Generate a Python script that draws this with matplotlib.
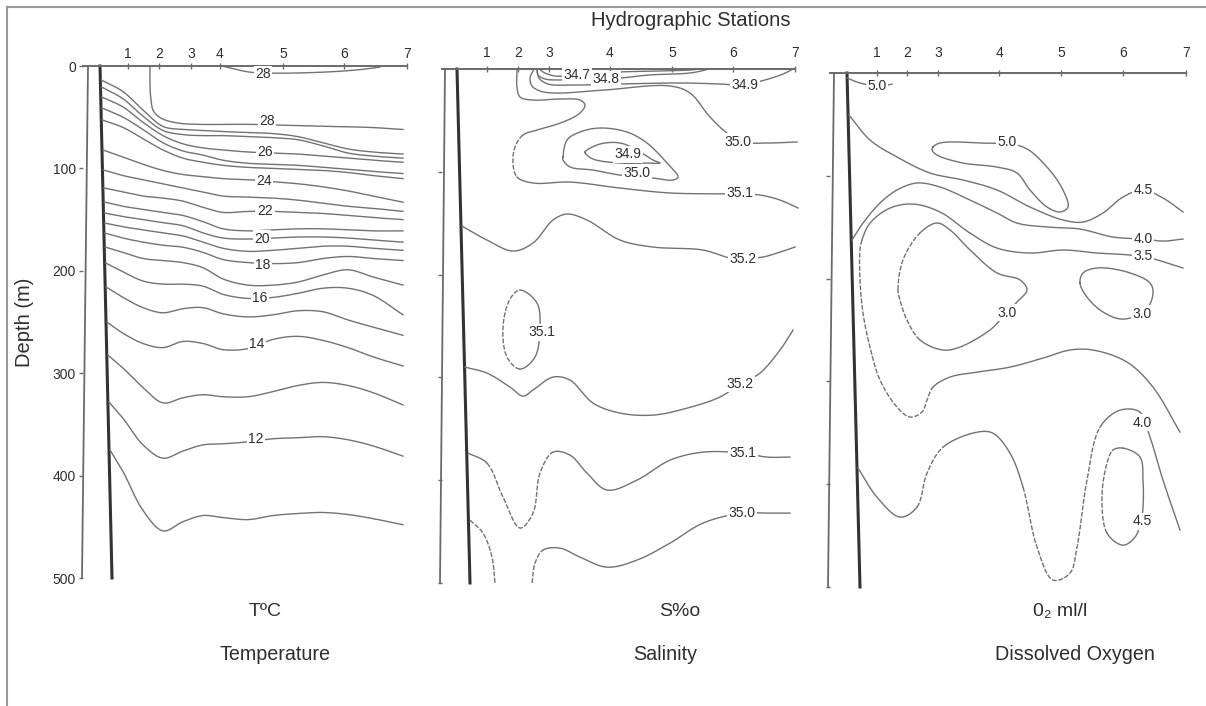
import numpy as np
import matplotlib
matplotlib.use("Agg")
import matplotlib.pyplot as plt
from matplotlib.lines import Line2D

plt.rcParams['font.family'] = ['Liberation Sans', 'DejaVu Sans']

# ---- stations along each section (distance units from the shore rim) ----
station_names = ['1', '2', '3', '4', '5', '6', '7']
temp_stations = [40, 71, 103, 132, 195, 256, 319]
sal_stations = [42, 73, 104, 165, 227, 288, 350]
oxy_stations = [43, 73, 104, 165, 227, 289, 352]
depth_ticks = [0, 100, 200, 300, 400, 500]

# shelf edge (thick line) and rim (thin line): x at 0 m and at 500 m
temp_coast = [12, 24]
sal_coast = [12, 25]
oxy_coast = [13, 26]
temp_rim = [0, -6]
sal_rim = [0, -5]
oxy_rim = [0, -6]

# ---- temperature: isotherms leaving the shelf, depth (m) on a common x grid ----
temp_x = [35, 55, 75, 95, 115, 135, 160, 185, 210, 235, 260, 285, 315]
temp_start = [13.7, 20.5, 30.3, 41.0, 52.7, 82.0, 101.6, 119.1, 132.8, 143.6,
              153.4, 163.2, 176.8, 192.4, 215.9, 250.1, 282.2, 328.1, 375.0]
temp_depths = [
    [25, 43, 59, 62, 63, 64, 65, 66, 69, 75, 81, 84, 86],
    [32, 49, 63, 67, 68, 68, 69, 70, 72, 78, 85, 88, 90],
    [40, 55, 68, 76, 80, 82, 84, 85, 86, 88, 90, 92, 94],
    [50, 62, 75, 83, 87, 92, 95, 96, 97, 99, 101, 103, 105],
    [60, 71, 82, 90, 94, 97, 99, 100, 101, 102, 104, 107, 110],
    [89, 96, 102, 106, 108, 110, 111, 113, 115, 118, 122, 127, 133],
    [107, 111, 115, 119, 123, 127, 128, 129, 131, 134, 137, 139, 142],
    [123, 127, 129, 132, 138, 143, 142, 142, 143, 144, 146, 148, 150],
    [137, 140, 143, 146, 152, 159, 161, 160, 159, 159, 160, 161, 161],
    [147, 150, 153, 156, 163, 168, 169, 168, 167, 167, 168, 170, 172],
    [157, 160, 163, 166, 172, 178, 181, 180, 178, 176, 176, 178, 180],
    [168, 172, 175, 177, 182, 189, 192, 193, 192, 188, 186, 188, 190],
    [182, 188, 190, 192, 197, 208, 214, 214, 211, 204, 199, 206, 214],
    [201, 210, 213, 213, 215, 223, 227, 226, 222, 217, 217, 224, 243],
    [226, 236, 241, 237, 236, 242, 245, 243, 239, 240, 248, 255, 263],
    [261, 271, 275, 269, 271, 277, 276, 267, 264, 268, 275, 284, 293],
    [295, 314, 329, 324, 321, 323, 323, 318, 312, 309, 312, 319, 331],
    [344, 370, 383, 376, 370, 369, 367, 364, 363, 362, 365, 371, 381],
    [396, 434, 454, 445, 439, 441, 443, 439, 437, 436, 438, 442, 448],
]
# 28 degC lines near the surface
temp_28_x = [62, 62, 63, 65, 70, 78, 92, 112, 162, 202, 242, 282, 315]
temp_28_d = [0, 19, 33, 43, 49, 53, 56, 57, 57, 58, 59, 60, 62]
temp_28s_x = [134, 147, 162, 190, 235, 267, 285, 292]
temp_28s_d = [0, 3, 6, 7, 6, 4, 2, 1]
temp_labels = [('28', 175, 8), ('28', 179, 54), ('26', 177, 84), ('24', 176, 112),
               ('22', 177, 142), ('20', 174, 169), ('18', 175, 194), ('16', 172, 227),
               ('14', 169, 271), ('12', 168, 364)]

# ---- salinity isohalines: (x, depth, dashed point ranges) ----
sal_347 = ([94, 100, 110, 120, 147, 175, 215, 245, 255],
           [0, 3.9, 6.8, 6.8, 4.9, 2.9, 1.9, 1.0, 0], [])
sal_348 = ([92, 93, 100, 120, 145, 175, 205, 245, 260, 263],
           [0, 5.8, 9.7, 10.7, 10.7, 8.8, 5.8, 3.9, 1.0, 0], [])
sal_349_top = ([92, 94, 103, 127, 175, 235, 275, 297, 320, 338, 348],
               [0, 8.8, 14.6, 15.6, 14.6, 13.6, 14.6, 15.6, 10.7, 4.9, 0], [])
sal_350_top = ([89, 85, 87, 95, 110, 160, 225, 245, 265, 282, 297, 322, 352],
               [0, 8.8, 16.5, 21.4, 23.4, 20.4, 16.5, 23.4, 46.7, 62.3, 71.0, 72.0, 71.0], [])
sal_351_top = ([72, 72, 75, 88, 115, 135, 140, 135, 118, 92, 78, 70, 68, 72, 88, 125,
                175, 225, 285, 315, 335, 353],
               [0, 17.5, 27.2, 30.2, 29.2, 30.2, 35.0, 42.8, 51.6, 59.4, 64.2, 75.9, 91.5,
                105.1, 110.9, 110.0, 115.8, 120.6, 121.6, 122.6, 127.5, 135.2], [(10, 13)])
sal_350_loop = ([118, 122, 135, 155, 182, 202, 222, 233, 228, 208, 175, 148, 125, 118, 118],
                [85.6, 69.1, 61.3, 57.4, 61.3, 72.0, 91.5, 105.1, 108.0, 106.1, 103.2, 98.3,
                 95.3, 88.5, 85.6], [])
sal_349_loop = ([140, 155, 175, 192, 208, 215, 202, 175, 148, 141, 140],
                [80.8, 73.0, 72.0, 78.8, 88.5, 91.5, 91.5, 91.5, 87.6, 82.7, 80.8], [])
sal_352_top = ([17, 42, 68, 88, 108, 122, 142, 175, 208, 258, 285, 298, 318, 335, 350],
               [152.8, 166.4, 177.1, 169.3, 146.9, 141.1, 146.9, 166.4, 173.2, 176.1, 183.9,
                184.9, 182.9, 178.1, 173.2], [])
sal_351_loop = ([75, 92, 95, 90, 75, 62, 58, 65, 75],
                [215, 227.7, 251, 280.2, 291.9, 280.2, 251, 223.8, 215], [(4, 8)])
sal_352_low = ([20, 42, 65, 78, 88, 108, 125, 148, 175, 208, 242, 275, 295, 315, 335, 348],
               [290, 295.8, 309.4, 318.2, 312.3, 299.7, 302.6, 325, 334.7, 336.7, 329.9,
                319.1, 306.5, 295.8, 273.4, 254], [])
sal_351_low = ([23, 42, 58, 75, 88, 95, 108, 125, 142, 162, 192, 225, 258, 298, 322, 345],
               [373.6, 383.4, 416.4, 446.6, 432, 393.1, 372.7, 375.6, 393.1, 409.6, 399.9,
                380.5, 372.7, 373.6, 377.5, 377.5], [(1, 6)])
sal_350_low_a = ([25, 38, 47, 50], [438.8, 451.5, 474.8, 500], [(0, 3)])
sal_350_low_b = ([87, 90, 98, 115, 135, 162, 192, 225, 258, 297, 322, 345],
                 [500, 480.7, 468, 466.1, 474.8, 484.6, 477.7, 461.2, 441.7, 432, 432, 432],
                 [(0, 2)])
sal_lines = [sal_347, sal_348, sal_349_top, sal_350_top, sal_351_top, sal_350_loop,
             sal_349_loop, sal_352_top, sal_351_loop, sal_352_low, sal_351_low,
             sal_350_low_a, sal_350_low_b]
sal_labels = [('34.7', 132, 6), ('34.8', 161, 10), ('34.9', 300, 16), ('35.0', 293, 71),
              ('34.9', 183, 83), ('35.0', 192, 101), ('35.1', 295, 121), ('35.2', 298, 185),
              ('35.1', 97, 256), ('35.2', 295, 306), ('35.1', 298, 374), ('35.0', 297, 432)]

# ---- dissolved oxygen ----
oxy_50_top = ([13, 26, 43, 54, 58], [4.9, 9.7, 12.6, 11.7, 10.7], [])
oxy_45_top = ([15, 36, 63, 96, 129, 163, 196, 229, 249, 269, 289, 309, 329, 349],
              [40.9, 65.2, 81.7, 97.3, 104.1, 113.8, 130.4, 143, 145, 136.2, 120.6, 113.8,
               121.6, 135.2], [])
oxy_50_loop = ([99, 106, 146, 189, 213, 229, 234, 226, 213, 196, 183, 163, 129, 103, 98, 99],
               [72, 68.1, 68.1, 72, 91.5, 113.8, 130.4, 135.2, 130.4, 113.8, 97.3, 91.5, 87.6,
                79.8, 74.9, 72], [])
oxy_40_top = ([18, 29, 46, 63, 83, 106, 136, 163, 183, 213, 246, 279, 309, 329, 349],
              [162.5, 146, 126.5, 113.8, 107, 110.9, 123.6, 136.2, 146, 149.8, 151.8, 159.6,
               161.5, 163.5, 161.5], [])
oxy_35 = ([349, 316, 296, 263, 229, 196, 163, 136, 106, 79, 56, 36, 28, 26, 26, 29, 36, 46,
           63, 76, 88, 93, 99, 116, 143, 176, 209, 236, 259, 293, 319, 346],
          [189.7, 180.0, 177.1, 175.1, 172.2, 175.1, 170.3, 155.7, 135.2, 127.5, 131.4, 146.0,
           162.5, 172.2, 201.4, 233.5, 266.6, 298.7, 325.0, 334.7, 329.8, 318.2, 305.6, 295.8,
           291.0, 286.1, 277.3, 269.5, 269.5, 281.2, 305.6, 349.3], [(12, 22)])
oxy_30_left = ([64, 69, 86, 103, 116, 136, 163, 186, 193, 183, 166, 156, 126, 109, 86, 73, 66, 64],
               [211, 181.8, 155.6, 145.9, 152.7, 172.1, 194.5, 201.3, 211, 222.8, 240.3, 250,
                266.6, 269.5, 259.7, 240.3, 220.9, 211], [(0, 2), (14, 17)])
oxy_30_right = ([246, 249, 263, 293, 316, 319, 312, 289, 269, 253, 246],
                [204.3, 194.6, 189.7, 193.6, 204.3, 214.1, 230.6, 239.4, 232.5, 218, 204.3], [])
oxy_40_low = ([24, 43, 66, 83, 93, 109, 143, 159, 176, 189, 203, 219, 236, 243, 253, 266, 286,
               306, 316, 329, 346],
              [384.3, 412.6, 432, 422.3, 389.3, 364, 349.4, 350.4, 369.8, 402.8, 461.2, 493.3,
               486.5, 461.2, 396, 344.5, 328, 329.9, 354.2, 396, 444.6], [(3, 5), (9, 15)])
oxy_45_loop = ([289, 306, 309, 309, 307, 301, 289, 273, 268, 273, 279, 289],
               [364.9, 373.6, 396, 422.3, 436, 451.5, 459.3, 447.6, 412.6, 379.5, 366.8, 364.9],
               [(7, 10)])
oxy_lines = [oxy_50_top, oxy_45_top, oxy_50_loop, oxy_40_top, oxy_35, oxy_30_left,
             oxy_30_right, oxy_40_low, oxy_45_loop]
oxy_labels = [('5.0', 43, 12.6), ('5.0', 173, 67), ('4.5', 309, 114), ('4.0', 309, 161),
              ('3.5', 309, 178), ('3.0', 173, 233), ('3.0', 308, 234), ('4.0', 308, 340),
              ('4.5', 308, 436)]

W, H = 1206, 706
LINE = '#727272'
INK = '#2e2e2e'
SUB = 10  # curve samples per traced segment


def smooth(xs, ys):
    """Centripetal Catmull-Rom curve through the traced points."""
    p = np.column_stack([xs, ys]).astype(float)
    closed = len(p) > 3 and np.allclose(p[0], p[-1])
    if closed:
        ext = np.vstack([p[-2], p, p[1]])
    else:
        ext = np.vstack([2 * p[0] - p[1], p, 2 * p[-1] - p[-2]])
    out = []
    for i in range(len(ext) - 3):
        p0, p1, p2, p3 = ext[i:i + 4]
        t1 = np.linalg.norm(p1 - p0) ** 0.5 + 1e-6
        t2 = t1 + np.linalg.norm(p2 - p1) ** 0.5 + 1e-6
        t3 = t2 + np.linalg.norm(p3 - p2) ** 0.5 + 1e-6
        t = np.linspace(t1, t2, SUB, endpoint=False)[:, None]
        a1 = (t1 - t) / t1 * p0 + t / t1 * p1
        a2 = (t2 - t) / (t2 - t1) * p1 + (t - t1) / (t2 - t1) * p2
        a3 = (t3 - t) / (t3 - t2) * p2 + (t - t2) / (t3 - t2) * p3
        b1 = (t2 - t) / t2 * a1 + t / t2 * a2
        b2 = (t3 - t) / (t3 - t1) * a2 + (t - t1) / (t3 - t1) * a3
        out.append((t2 - t) / (t2 - t1) * b1 + (t - t1) / (t2 - t1) * b2)
    out.append(p[-1:])
    return np.vstack(out)


fig = plt.figure(figsize=(W / 100, H / 100), dpi=100)


def box(l, r, t, b):
    return [l / W, 1 - b / H, (r - l) / W, (b - t) / H]


def section(rect, xlim, stations, coast, rim, show_depths, pad):
    ax = fig.add_axes(rect)
    ax.patch.set_alpha(0)
    ax.set_xlim(*xlim)
    ax.set_ylim(500, 0)
    for s in ['left', 'right', 'bottom']:
        ax.spines[s].set_visible(False)
    ax.spines['top'].set_color('#6a6a6a')
    ax.spines['top'].set_linewidth(1.4)
    ax.xaxis.tick_top()
    ax.set_xticks(stations)
    ax.set_xticklabels(station_names)
    ax.tick_params(axis='x', direction='inout', length=5, width=1, colors='#6a6a6a',
                   labelcolor=INK, labelsize=10, pad=pad)
    if show_depths:
        ax.set_yticks(depth_ticks)
        ax.set_yticklabels([str(d) for d in depth_ticks])
    else:
        ax.set_yticks(depth_ticks[1:])
        ax.set_yticklabels([])
    ax.tick_params(axis='y', direction='out', length=3, width=1, colors='#6a6a6a',
                   labelcolor=INK, labelsize=10, pad=2)
    ax.plot(rim, [0, 500], color='#6a6a6a', lw=1.3, clip_on=False)
    ax.plot(coast, [0, 500], color='#333333', lw=2.2, clip_on=False)
    return ax


def draw_lines(ax, lines, labels):
    for xs, ds, dashed in lines:
        c = smooth(xs, ds)
        n = len(xs) - 1
        pos = 0
        for a, b in sorted(dashed):
            if a > pos:
                seg = c[pos * SUB:a * SUB + 1]
                ax.plot(seg[:, 0], seg[:, 1], color=LINE, lw=1.0, clip_on=False)
            seg = c[a * SUB:b * SUB + 1]
            ax.plot(seg[:, 0], seg[:, 1], color=LINE, lw=1.0, clip_on=False,
                    linestyle=(0, (3.5, 1.2)))
            pos = b
        if pos < n:
            seg = c[pos * SUB:]
            ax.plot(seg[:, 0], seg[:, 1], color=LINE, lw=1.0, clip_on=False)
    for txt, x, d in labels:
        ax.text(x, d, txt, fontsize=10, ha='center', va='center', color=INK, zorder=5,
                bbox=dict(boxstyle='square,pad=0.12', fc='white', ec='none'))


# temperature section
ax1 = section(box(83, 407, 66, 578), (-5, 319), temp_stations, temp_coast, temp_rim, True, 1.2)
temp_lines = [(temp_28_x, temp_28_d, []), (temp_28s_x, temp_28s_d, [])]
for d0, ds in zip(temp_start, temp_depths):
    x0 = np.interp(d0, [0, 500], temp_coast) + 1
    temp_lines.append(([x0] + temp_x, [d0] + ds, []))
draw_lines(ax1, temp_lines, temp_labels)

# salinity section
ax2 = section(box(442, 795, 69, 583), (-3, 350), sal_stations, sal_coast, sal_rim, False, 4)
draw_lines(ax2, sal_lines, sal_labels)

# oxygen section
ax3 = section(box(830, 1186, 73, 587), (-4, 352), oxy_stations, oxy_coast, oxy_rim, False, 7)
draw_lines(ax3, oxy_lines, oxy_labels)

# titles and captions
fig.text(691 / W, 1 - 20 / H, 'Hydrographic Stations', ha='center', va='center',
         fontsize=14.6, color=INK)
fig.text(25 / W, 1 - 322 / H, 'Depth (m)', ha='center', va='center', rotation=90,
         fontsize=14.5, color=INK)
for txt, x in [('TºC', 265), ('S%o', 680), ('0₂ ml/l', 1060)]:
    fig.text(x / W, 1 - 612 / H, txt, ha='center', va='center', fontsize=14, color=INK)
for txt, x in [('Temperature', 275), ('Salinity', 665), ('Dissolved Oxygen', 1075)]:
    fig.text(x / W, 1 - 655 / H, txt, ha='center', va='center', fontsize=14.2, color=INK)

# page frame (left and top edges)
fig.add_artist(Line2D([7 / W, 7 / W], [0, 1 - 7 / H], transform=fig.transFigure,
                      color='#9a9a9a', lw=1.5))
fig.add_artist(Line2D([7 / W, 1], [1 - 7 / H, 1 - 7 / H], transform=fig.transFigure,
                      color='#9a9a9a', lw=1.5))

fig.savefig('out.png', dpi=100)
